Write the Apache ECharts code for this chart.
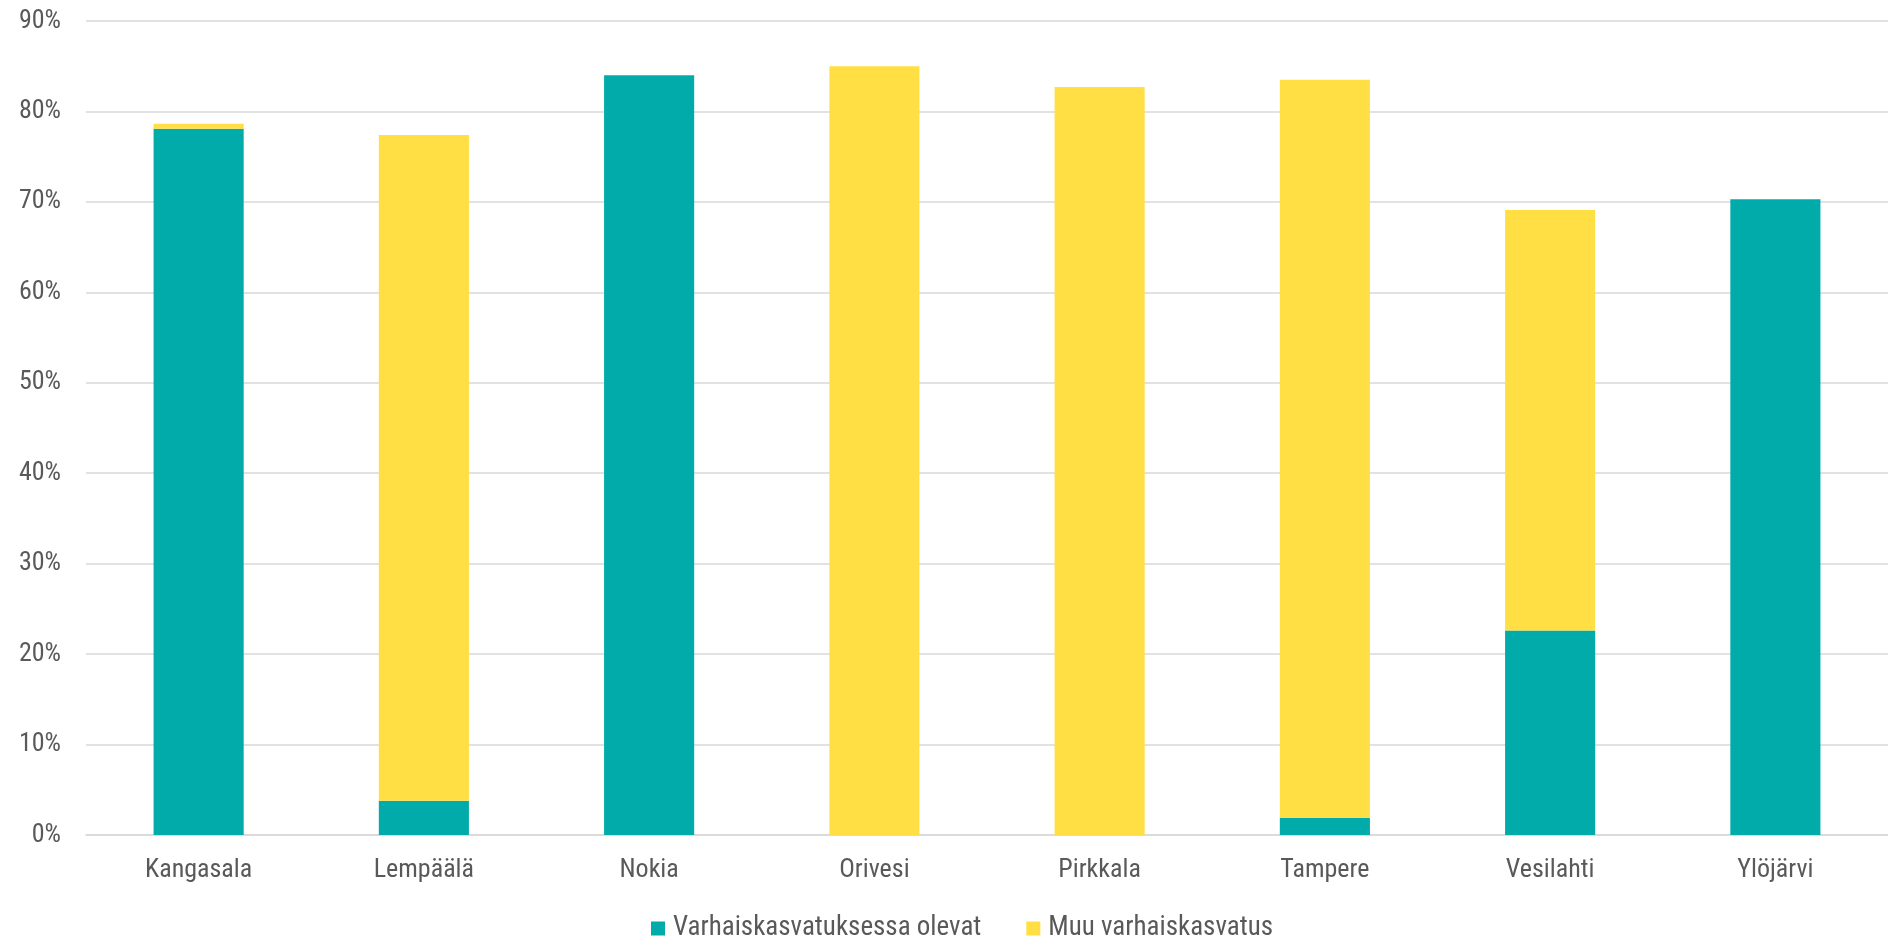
<!DOCTYPE html>
<html>
<head>
<meta charset="utf-8">
<script src="https://cdn.jsdelivr.net/npm/echarts@6/dist/echarts.min.js"></script>
<style>
html,body{margin:0;padding:0;background:#fff;}
#chart{width:1888px;height:937px;}
</style>
</head>
<body>
<div id="chart"></div>
<script>
const categories = ['Kangasala','Lempäälä','Nokia','Orivesi','Pirkkala','Tampere','Vesilahti','Ylöjärvi'];
const seriesNames = ['Varhaiskasvatuksessa olevat','Muu varhaiskasvatus'];
const varhaiskasvatuksessa = [78.1, 3.8, 84.0, 0, 0, 1.9, 22.6, 70.3];
const muu = [0.55, 73.6, 0, 85.0, 82.7, 81.6, 46.5, 0];
const yTicks = [0, 10, 20, 30, 40, 50, 60, 70, 80, 90];

const FONT = '"Liberation Sans Narrow", "Roboto Condensed", "Liberation Sans", sans-serif';
const TXT = '#595959';

const chart = echarts.init(document.getElementById('chart'), null, {renderer: 'canvas'});
chart.setOption({
  animation: false,
  backgroundColor: '#fff',
  grid: {left: 86, right: 0, top: 21, bottom: 102, containLabel: false},
  legend: {
    top: 910,
    left: 646,
    itemWidth: 14, itemHeight: 14, itemGap: 45,
    icon: 'rect',
    textStyle: {fontFamily: FONT, fontSize: 27, color: TXT, padding: [0,0,0,3]},
    data: seriesNames
  },
  xAxis: {
    type: 'category',
    data: categories,
    axisLine: {lineStyle: {color: '#d9d9d9', width: 1.5}},
    axisTick: {show: false},
    axisLabel: {fontFamily: FONT, fontSize: 26, color: TXT, margin: 22}
  },
  yAxis: {
    type: 'value',
    min: yTicks[0], max: yTicks[yTicks.length-1], interval: 10,
    axisLine: {show: false},
    axisTick: {show: false},
    splitLine: {lineStyle: {color: '#d9d9d9', width: 1.5}},
    axisLabel: {fontFamily: FONT, fontSize: 26, color: TXT, margin: 25, formatter: v => v + '%'}
  },
  series: [
    {name: seriesNames[0], type: 'bar', stack: 'a', data: varhaiskasvatuksessa, barWidth: '40%', itemStyle: {color: '#00ABA9'}},
    {name: seriesNames[1], type: 'bar', stack: 'a', data: muu, barWidth: '40%', itemStyle: {color: '#FFDF43'}}
  ]
});
</script>
</body>
</html>
